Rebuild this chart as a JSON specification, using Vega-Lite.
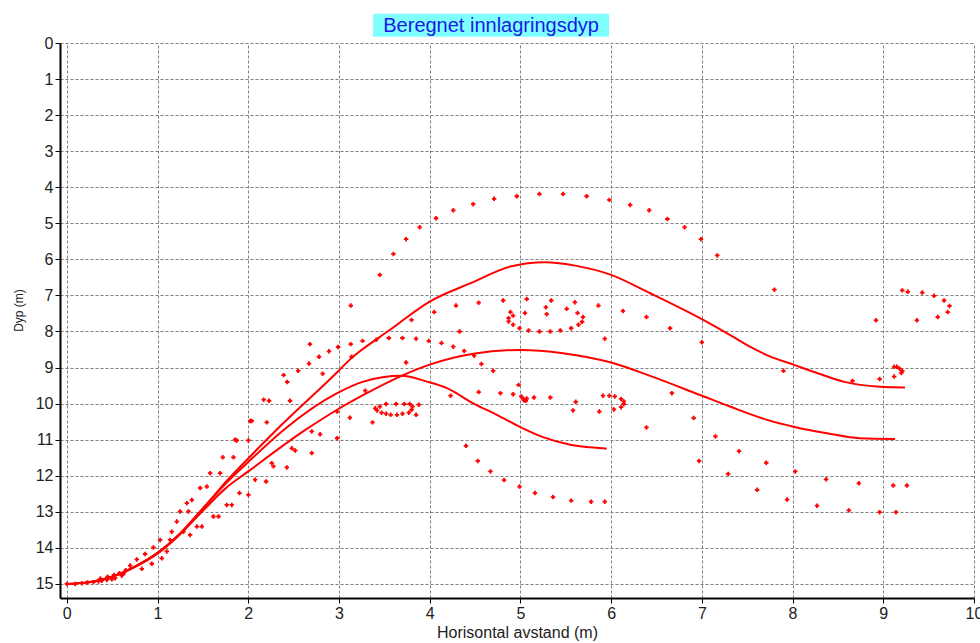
{
  "$schema": "https://vega.github.io/schema/vega-lite/v6.json",
  "width": 914,
  "height": 555,
  "autosize": "none",
  "padding": {"left": 60, "top": 43, "right": 6, "bottom": 45},
  "background": "white",
  "config": {
    "view": {"stroke": null},
    "font": "Liberation Sans",
    "axis": {
      "domainColor": "#000000",
      "domainWidth": 2,
      "tickColor": "#000000",
      "tickWidth": 1,
      "gridColor": "#808080",
      "gridDash": [3, 2],
      "gridWidth": 1,
      "labelFont": "Liberation Sans",
      "labelFontSize": 16,
      "labelColor": "#222222",
      "labelPadding": 2,
      "labelOverlap": false,
      "labelFlush": false,
      "titleFont": "Liberation Sans",
      "titleFontWeight": "normal",
      "titleColor": "#222222"
    },
    "axisY": {"labelOverlap": false},
    "axisX": {"labelOverlap": false}
  },
  "datasets": {
    "kurver": [
      {"kurve": "A", "avstand": 0, "dyp": 15.0},
      {"kurve": "A", "avstand": 0.25, "dyp": 14.95},
      {"kurve": "A", "avstand": 0.5, "dyp": 14.8},
      {"kurve": "A", "avstand": 0.75, "dyp": 14.52},
      {"kurve": "A", "avstand": 1.0, "dyp": 14.14},
      {"kurve": "A", "avstand": 1.25, "dyp": 13.6},
      {"kurve": "A", "avstand": 1.5, "dyp": 12.92},
      {"kurve": "A", "avstand": 1.75, "dyp": 12.18},
      {"kurve": "A", "avstand": 2.0, "dyp": 11.52},
      {"kurve": "A", "avstand": 2.31, "dyp": 10.73},
      {"kurve": "A", "avstand": 2.98, "dyp": 9.13},
      {"kurve": "A", "avstand": 3.12, "dyp": 8.78},
      {"kurve": "A", "avstand": 3.23, "dyp": 8.55},
      {"kurve": "A", "avstand": 3.56, "dyp": 7.96},
      {"kurve": "A", "avstand": 4.0, "dyp": 7.17},
      {"kurve": "A", "avstand": 4.45, "dyp": 6.66},
      {"kurve": "A", "avstand": 4.89, "dyp": 6.2},
      {"kurve": "A", "avstand": 5.27, "dyp": 6.08},
      {"kurve": "A", "avstand": 5.62, "dyp": 6.18},
      {"kurve": "A", "avstand": 6.0, "dyp": 6.43},
      {"kurve": "A", "avstand": 6.43, "dyp": 6.94},
      {"kurve": "A", "avstand": 7.0, "dyp": 7.66},
      {"kurve": "A", "avstand": 7.4, "dyp": 8.23},
      {"kurve": "A", "avstand": 7.53, "dyp": 8.42},
      {"kurve": "A", "avstand": 7.75, "dyp": 8.69},
      {"kurve": "A", "avstand": 8.01, "dyp": 8.92},
      {"kurve": "A", "avstand": 8.27, "dyp": 9.15},
      {"kurve": "A", "avstand": 8.56, "dyp": 9.39},
      {"kurve": "A", "avstand": 8.96, "dyp": 9.53},
      {"kurve": "A", "avstand": 9.24, "dyp": 9.55},
      {"kurve": "B", "avstand": 0, "dyp": 15.0},
      {"kurve": "B", "avstand": 0.25, "dyp": 14.95},
      {"kurve": "B", "avstand": 0.5, "dyp": 14.8},
      {"kurve": "B", "avstand": 0.75, "dyp": 14.53},
      {"kurve": "B", "avstand": 1.0, "dyp": 14.16},
      {"kurve": "B", "avstand": 1.25, "dyp": 13.62},
      {"kurve": "B", "avstand": 1.5, "dyp": 12.97},
      {"kurve": "B", "avstand": 1.75, "dyp": 12.35},
      {"kurve": "B", "avstand": 2.0, "dyp": 11.88},
      {"kurve": "B", "avstand": 2.63, "dyp": 10.73},
      {"kurve": "B", "avstand": 2.98, "dyp": 10.17},
      {"kurve": "B", "avstand": 3.27, "dyp": 9.76},
      {"kurve": "B", "avstand": 3.69, "dyp": 9.23},
      {"kurve": "B", "avstand": 4.0, "dyp": 8.92},
      {"kurve": "B", "avstand": 4.48, "dyp": 8.62},
      {"kurve": "B", "avstand": 5.0, "dyp": 8.51},
      {"kurve": "B", "avstand": 5.47, "dyp": 8.6},
      {"kurve": "B", "avstand": 6.0, "dyp": 8.86},
      {"kurve": "B", "avstand": 6.43, "dyp": 9.23},
      {"kurve": "B", "avstand": 6.98, "dyp": 9.76},
      {"kurve": "B", "avstand": 7.31, "dyp": 10.08},
      {"kurve": "B", "avstand": 7.72, "dyp": 10.45},
      {"kurve": "B", "avstand": 8.01, "dyp": 10.64},
      {"kurve": "B", "avstand": 8.38, "dyp": 10.82},
      {"kurve": "B", "avstand": 8.74, "dyp": 10.96},
      {"kurve": "B", "avstand": 9.13, "dyp": 10.98},
      {"kurve": "C", "avstand": 0, "dyp": 15.0},
      {"kurve": "C", "avstand": 0.25, "dyp": 14.95},
      {"kurve": "C", "avstand": 0.5, "dyp": 14.8},
      {"kurve": "C", "avstand": 0.75, "dyp": 14.52},
      {"kurve": "C", "avstand": 1.0, "dyp": 14.14},
      {"kurve": "C", "avstand": 1.25, "dyp": 13.6},
      {"kurve": "C", "avstand": 1.5, "dyp": 12.9},
      {"kurve": "C", "avstand": 1.75, "dyp": 12.22},
      {"kurve": "C", "avstand": 2.0, "dyp": 11.62},
      {"kurve": "C", "avstand": 2.39, "dyp": 10.73},
      {"kurve": "C", "avstand": 2.98, "dyp": 9.71},
      {"kurve": "C", "avstand": 3.27, "dyp": 9.39},
      {"kurve": "C", "avstand": 3.69, "dyp": 9.23},
      {"kurve": "C", "avstand": 3.97, "dyp": 9.39},
      {"kurve": "C", "avstand": 4.19, "dyp": 9.57},
      {"kurve": "C", "avstand": 4.48, "dyp": 9.99},
      {"kurve": "C", "avstand": 4.74, "dyp": 10.31},
      {"kurve": "C", "avstand": 5.0, "dyp": 10.65},
      {"kurve": "C", "avstand": 5.25, "dyp": 10.93},
      {"kurve": "C", "avstand": 5.55, "dyp": 11.14},
      {"kurve": "C", "avstand": 5.91, "dyp": 11.24},
      {"kurve": "C", "avstand": 5.95, "dyp": 11.25}
    ],
    "punkter": [
      {"avstand": 0, "dyp": 15.0}, {"avstand": 0.092, "dyp": 15.0}, {"avstand": 0.165, "dyp": 14.98},
      {"avstand": 0.228, "dyp": 14.96}, {"avstand": 0.294, "dyp": 14.95}, {"avstand": 0.349, "dyp": 14.93},
      {"avstand": 0.386, "dyp": 14.91}, {"avstand": 0.441, "dyp": 14.89}, {"avstand": 0.496, "dyp": 14.87},
      {"avstand": 0.533, "dyp": 14.84}, {"avstand": 0.606, "dyp": 14.77}, {"avstand": 0.625, "dyp": 14.72},
      {"avstand": 0.37, "dyp": 14.85}, {"avstand": 0.45, "dyp": 14.8}, {"avstand": 0.52, "dyp": 14.75},
      {"avstand": 0.58, "dyp": 14.7}, {"avstand": 0.65, "dyp": 14.62},
      {"avstand": 0.698, "dyp": 14.49}, {"avstand": 0.771, "dyp": 14.32}, {"avstand": 0.827, "dyp": 14.58},
      {"avstand": 0.863, "dyp": 14.17}, {"avstand": 0.937, "dyp": 14.44}, {"avstand": 0.955, "dyp": 13.99},
      {"avstand": 1.029, "dyp": 13.78}, {"avstand": 1.047, "dyp": 14.29}, {"avstand": 1.102, "dyp": 14.1},
      {"avstand": 1.139, "dyp": 13.78}, {"avstand": 1.157, "dyp": 13.55}, {"avstand": 1.212, "dyp": 13.27},
      {"avstand": 1.249, "dyp": 12.99}, {"avstand": 1.286, "dyp": 13.55}, {"avstand": 1.323, "dyp": 12.76},
      {"avstand": 1.341, "dyp": 12.99}, {"avstand": 1.359, "dyp": 13.64}, {"avstand": 1.378, "dyp": 12.67},
      {"avstand": 1.433, "dyp": 13.41}, {"avstand": 1.47, "dyp": 12.34}, {"avstand": 1.488, "dyp": 13.41},
      {"avstand": 1.543, "dyp": 12.3}, {"avstand": 1.58, "dyp": 11.93}, {"avstand": 1.616, "dyp": 13.13},
      {"avstand": 1.672, "dyp": 13.13}, {"avstand": 1.69, "dyp": 11.93}, {"avstand": 1.719, "dyp": 11.49},
      {"avstand": 1.763, "dyp": 12.81}, {"avstand": 1.819, "dyp": 12.81}, {"avstand": 1.837, "dyp": 11.49},
      {"avstand": 1.855, "dyp": 11.0}, {"avstand": 1.874, "dyp": 11.02}, {"avstand": 1.903, "dyp": 12.48},
      {"avstand": 2.002, "dyp": 12.53}, {"avstand": 2.002, "dyp": 11.02}, {"avstand": 2.021, "dyp": 10.48},
      {"avstand": 2.039, "dyp": 10.48}, {"avstand": 2.076, "dyp": 12.11}, {"avstand": 2.197, "dyp": 12.16},
      {"avstand": 2.204, "dyp": 10.52}, {"avstand": 2.259, "dyp": 11.65}, {"avstand": 2.278, "dyp": 11.74},
      {"avstand": 2.425, "dyp": 11.77}, {"avstand": 2.48, "dyp": 11.24}, {"avstand": 2.517, "dyp": 11.3},
      {"avstand": 2.7, "dyp": 11.37}, {"avstand": 2.7, "dyp": 10.77}, {"avstand": 2.792, "dyp": 10.85},
      {"avstand": 3.13, "dyp": 7.28}, {"avstand": 2.68, "dyp": 8.35}, {"avstand": 3.13, "dyp": 8.35},
      {"avstand": 2.99, "dyp": 8.43}, {"avstand": 2.89, "dyp": 8.55}, {"avstand": 2.78, "dyp": 8.7},
      {"avstand": 3.14, "dyp": 8.7}, {"avstand": 2.67, "dyp": 8.89}, {"avstand": 2.39, "dyp": 9.21},
      {"avstand": 2.55, "dyp": 9.09}, {"avstand": 2.82, "dyp": 9.17}, {"avstand": 2.43, "dyp": 9.4},
      {"avstand": 2.17, "dyp": 9.89}, {"avstand": 2.23, "dyp": 9.92}, {"avstand": 2.46, "dyp": 9.92},
      {"avstand": 2.98, "dyp": 10.22}, {"avstand": 3.12, "dyp": 10.39},
      {"avstand": 3.45, "dyp": 6.43}, {"avstand": 3.6, "dyp": 5.85}, {"avstand": 3.74, "dyp": 5.44},
      {"avstand": 3.89, "dyp": 5.11}, {"avstand": 4.07, "dyp": 4.86}, {"avstand": 4.26, "dyp": 4.64},
      {"avstand": 4.48, "dyp": 4.47}, {"avstand": 4.71, "dyp": 4.32}, {"avstand": 4.96, "dyp": 4.25},
      {"avstand": 5.21, "dyp": 4.19}, {"avstand": 5.47, "dyp": 4.19}, {"avstand": 5.73, "dyp": 4.25},
      {"avstand": 5.98, "dyp": 4.35}, {"avstand": 6.21, "dyp": 4.49}, {"avstand": 6.42, "dyp": 4.64},
      {"avstand": 6.62, "dyp": 4.88}, {"avstand": 6.81, "dyp": 5.11}, {"avstand": 6.99, "dyp": 5.44},
      {"avstand": 7.17, "dyp": 5.89}, {"avstand": 7.8, "dyp": 6.84}, {"avstand": 6.65, "dyp": 7.91},
      {"avstand": 7.0, "dyp": 8.3}, {"avstand": 8.92, "dyp": 7.69}, {"avstand": 9.21, "dyp": 6.86},
      {"avstand": 9.27, "dyp": 6.9}, {"avstand": 9.43, "dyp": 6.92}, {"avstand": 9.56, "dyp": 7.01},
      {"avstand": 9.67, "dyp": 7.14}, {"avstand": 9.73, "dyp": 7.29}, {"avstand": 9.71, "dyp": 7.46},
      {"avstand": 9.6, "dyp": 7.6}, {"avstand": 9.37, "dyp": 7.69},
      {"avstand": 9.12, "dyp": 8.98}, {"avstand": 9.15, "dyp": 8.98}, {"avstand": 9.18, "dyp": 9.03},
      {"avstand": 9.21, "dyp": 9.09}, {"avstand": 9.2, "dyp": 9.15}, {"avstand": 9.12, "dyp": 9.25},
      {"avstand": 8.96, "dyp": 9.32}, {"avstand": 8.66, "dyp": 9.37},
      {"avstand": 4.05, "dyp": 7.46}, {"avstand": 4.29, "dyp": 7.28}, {"avstand": 4.54, "dyp": 7.2},
      {"avstand": 4.81, "dyp": 7.14}, {"avstand": 5.07, "dyp": 7.1}, {"avstand": 5.34, "dyp": 7.14},
      {"avstand": 5.6, "dyp": 7.19}, {"avstand": 5.86, "dyp": 7.28}, {"avstand": 6.13, "dyp": 7.43},
      {"avstand": 6.39, "dyp": 7.6}, {"avstand": 3.8, "dyp": 7.68}, {"avstand": 4.33, "dyp": 8.0},
      {"avstand": 5.93, "dyp": 8.2},
      {"avstand": 5.28, "dyp": 7.33}, {"avstand": 4.89, "dyp": 7.46}, {"avstand": 5.05, "dyp": 7.49},
      {"avstand": 5.29, "dyp": 7.52}, {"avstand": 5.51, "dyp": 7.37}, {"avstand": 5.63, "dyp": 7.49},
      {"avstand": 5.69, "dyp": 7.6}, {"avstand": 5.68, "dyp": 7.73}, {"avstand": 5.64, "dyp": 7.81},
      {"avstand": 5.56, "dyp": 7.91}, {"avstand": 5.44, "dyp": 7.97}, {"avstand": 5.33, "dyp": 8.0},
      {"avstand": 5.21, "dyp": 8.0}, {"avstand": 5.09, "dyp": 7.97}, {"avstand": 4.99, "dyp": 7.91},
      {"avstand": 4.92, "dyp": 7.81}, {"avstand": 4.87, "dyp": 7.72}, {"avstand": 4.87, "dyp": 7.63},
      {"avstand": 4.92, "dyp": 7.56},
      {"avstand": 3.26, "dyp": 8.26}, {"avstand": 3.41, "dyp": 8.23}, {"avstand": 3.55, "dyp": 8.18},
      {"avstand": 3.7, "dyp": 8.18}, {"avstand": 3.85, "dyp": 8.2}, {"avstand": 3.99, "dyp": 8.26},
      {"avstand": 4.13, "dyp": 8.32}, {"avstand": 4.26, "dyp": 8.42}, {"avstand": 4.38, "dyp": 8.54},
      {"avstand": 4.49, "dyp": 8.67},
      {"avstand": 3.74, "dyp": 8.86}, {"avstand": 4.57, "dyp": 8.9}, {"avstand": 4.7, "dyp": 9.09},
      {"avstand": 4.98, "dyp": 9.48}, {"avstand": 4.54, "dyp": 9.68}, {"avstand": 4.78, "dyp": 9.71},
      {"avstand": 4.92, "dyp": 9.74}, {"avstand": 5.01, "dyp": 9.8}, {"avstand": 5.05, "dyp": 9.89},
      {"avstand": 5.03, "dyp": 9.87}, {"avstand": 5.06, "dyp": 9.92}, {"avstand": 5.07, "dyp": 9.86},
      {"avstand": 5.04, "dyp": 9.91}, {"avstand": 5.15, "dyp": 9.83}, {"avstand": 5.33, "dyp": 9.83},
      {"avstand": 4.23, "dyp": 9.78}, {"avstand": 3.29, "dyp": 9.64}, {"avstand": 2.98, "dyp": 10.96},
      {"avstand": 3.37, "dyp": 10.52}, {"avstand": 3.85, "dyp": 10.31},
      {"avstand": 3.4, "dyp": 10.13}, {"avstand": 3.42, "dyp": 10.19}, {"avstand": 3.45, "dyp": 10.08},
      {"avstand": 3.47, "dyp": 10.25}, {"avstand": 3.52, "dyp": 10.01}, {"avstand": 3.52, "dyp": 10.28},
      {"avstand": 3.57, "dyp": 10.31}, {"avstand": 3.63, "dyp": 10.01}, {"avstand": 3.64, "dyp": 10.31},
      {"avstand": 3.7, "dyp": 10.28}, {"avstand": 3.72, "dyp": 10.01}, {"avstand": 3.77, "dyp": 10.25},
      {"avstand": 3.78, "dyp": 10.01}, {"avstand": 3.8, "dyp": 10.17}, {"avstand": 3.81, "dyp": 10.08},
      {"avstand": 3.88, "dyp": 10.03},
      {"avstand": 5.58, "dyp": 10.19}, {"avstand": 5.61, "dyp": 9.95}, {"avstand": 5.87, "dyp": 10.22},
      {"avstand": 5.91, "dyp": 9.78}, {"avstand": 5.98, "dyp": 9.78}, {"avstand": 6.04, "dyp": 9.8},
      {"avstand": 6.11, "dyp": 9.87}, {"avstand": 6.14, "dyp": 9.94}, {"avstand": 6.14, "dyp": 10.01},
      {"avstand": 6.11, "dyp": 10.1}, {"avstand": 6.03, "dyp": 10.16}, {"avstand": 6.39, "dyp": 10.66},
      {"avstand": 4.4, "dyp": 11.17}, {"avstand": 4.53, "dyp": 11.59}, {"avstand": 4.67, "dyp": 11.88},
      {"avstand": 4.82, "dyp": 12.12}, {"avstand": 4.99, "dyp": 12.3}, {"avstand": 5.16, "dyp": 12.48},
      {"avstand": 5.36, "dyp": 12.59}, {"avstand": 5.56, "dyp": 12.69}, {"avstand": 5.78, "dyp": 12.72},
      {"avstand": 5.93, "dyp": 12.72},
      {"avstand": 6.67, "dyp": 9.71}, {"avstand": 6.91, "dyp": 10.4}, {"avstand": 7.15, "dyp": 10.91},
      {"avstand": 7.41, "dyp": 11.32}, {"avstand": 6.97, "dyp": 11.59}, {"avstand": 7.29, "dyp": 11.95},
      {"avstand": 7.71, "dyp": 11.64}, {"avstand": 7.61, "dyp": 12.39}, {"avstand": 8.03, "dyp": 11.88},
      {"avstand": 7.94, "dyp": 12.66}, {"avstand": 8.37, "dyp": 12.1}, {"avstand": 8.27, "dyp": 12.83},
      {"avstand": 8.73, "dyp": 12.21}, {"avstand": 8.62, "dyp": 12.96}, {"avstand": 8.96, "dyp": 13.01},
      {"avstand": 9.14, "dyp": 13.01}, {"avstand": 9.11, "dyp": 12.27}, {"avstand": 9.26, "dyp": 12.27},
      {"avstand": 7.9, "dyp": 9.09}
    ]
  },
  "layer": [
    {
      "data": {"name": "kurver"},
      "mark": {"type": "line", "color": "#ff0000", "strokeWidth": 2, "interpolate": "monotone"},
      "encoding": {
        "x": {
          "field": "avstand", "type": "quantitative",
          "scale": {"domain": [-0.075, 10], "nice": false, "zero": false},
          "axis": {
            "title": "Horisontal avstand (m)", "titleFontSize": 16, "titlePadding": 3,
            "values": [0,0.25,0.5,0.75,1,1.25,1.5,1.75,2,2.25,2.5,2.75,3,3.25,3.5,3.75,4,4.25,4.5,4.75,5,5.25,5.5,5.75,6,6.25,6.5,6.75,7,7.25,7.5,7.75,8,8.25,8.5,8.75,9,9.25,9.5,9.75,10],
            "format": "d", "labelExpr": "datum.value % 1 === 0 ? datum.label : ''", "labelOverlap": false,
            "tickSize": {"condition": {"test": "datum.value % 1 !== 0", "value": 3}, "value": 5},
            "gridOpacity": {"condition": {"test": "datum.value % 1 !== 0", "value": 0}, "value": 1}
          }
        },
        "y": {
          "field": "dyp", "type": "quantitative",
          "scale": {"domain": [0, 15.39], "nice": false, "zero": false, "reverse": true},
          "axis": {
            "title": "Dyp (m)", "titleFontSize": 12, "titlePadding": 10, "titleY": 267,
            "values": [0,0.25,0.5,0.75,1,1.25,1.5,1.75,2,2.25,2.5,2.75,3,3.25,3.5,3.75,4,4.25,4.5,4.75,5,5.25,5.5,5.75,6,6.25,6.5,6.75,7,7.25,7.5,7.75,8,8.25,8.5,8.75,9,9.25,9.5,9.75,10,10.25,10.5,10.75,11,11.25,11.5,11.75,12,12.25,12.5,12.75,13,13.25,13.5,13.75,14,14.25,14.5,14.75,15],
            "format": "d", "labelExpr": "datum.value % 1 === 0 ? datum.label : ''", "labelOverlap": false,
            "tickSize": {"condition": {"test": "datum.value % 1 !== 0", "value": 3}, "value": 5},
            "gridOpacity": {"condition": {"test": "datum.value % 1 !== 0", "value": 0}, "value": 1}
          }
        },
        "detail": {"field": "kurve"}
      }
    },
    {
      "data": {"name": "punkter"},
      "mark": {"type": "point", "shape": "cross", "filled": true, "size": 20, "color": "#ff0000", "opacity": 1},
      "encoding": {
        "x": {
          "field": "avstand", "type": "quantitative",
          "axis": {
            "title": "Horisontal avstand (m)", "titleFontSize": 16, "titlePadding": 3,
            "values": [0,0.25,0.5,0.75,1,1.25,1.5,1.75,2,2.25,2.5,2.75,3,3.25,3.5,3.75,4,4.25,4.5,4.75,5,5.25,5.5,5.75,6,6.25,6.5,6.75,7,7.25,7.5,7.75,8,8.25,8.5,8.75,9,9.25,9.5,9.75,10],
            "format": "d", "labelExpr": "datum.value % 1 === 0 ? datum.label : ''", "labelOverlap": false,
            "tickSize": {"condition": {"test": "datum.value % 1 !== 0", "value": 3}, "value": 5},
            "gridOpacity": {"condition": {"test": "datum.value % 1 !== 0", "value": 0}, "value": 1}
          }
        },
        "y": {
          "field": "dyp", "type": "quantitative",
          "axis": {
            "title": "Dyp (m)", "titleFontSize": 12, "titlePadding": 10, "titleY": 267,
            "values": [0,0.25,0.5,0.75,1,1.25,1.5,1.75,2,2.25,2.5,2.75,3,3.25,3.5,3.75,4,4.25,4.5,4.75,5,5.25,5.5,5.75,6,6.25,6.5,6.75,7,7.25,7.5,7.75,8,8.25,8.5,8.75,9,9.25,9.5,9.75,10,10.25,10.5,10.75,11,11.25,11.5,11.75,12,12.25,12.5,12.75,13,13.25,13.5,13.75,14,14.25,14.5,14.75,15],
            "format": "d", "labelExpr": "datum.value % 1 === 0 ? datum.label : ''", "labelOverlap": false,
            "tickSize": {"condition": {"test": "datum.value % 1 !== 0", "value": 3}, "value": 5},
            "gridOpacity": {"condition": {"test": "datum.value % 1 !== 0", "value": 0}, "value": 1}
          }
        }
      }
    },
    {
      "data": {"values": [{"tittel": "Beregnet innlagringsdyp"}]},
      "mark": {"type": "rect", "color": "#80ffff"},
      "encoding": {
        "x": {
          "datum": 3.376, "type": "quantitative",
          "axis": {
            "title": "Horisontal avstand (m)", "titleFontSize": 16, "titlePadding": 3,
            "values": [0,0.25,0.5,0.75,1,1.25,1.5,1.75,2,2.25,2.5,2.75,3,3.25,3.5,3.75,4,4.25,4.5,4.75,5,5.25,5.5,5.75,6,6.25,6.5,6.75,7,7.25,7.5,7.75,8,8.25,8.5,8.75,9,9.25,9.5,9.75,10],
            "format": "d", "labelExpr": "datum.value % 1 === 0 ? datum.label : ''", "labelOverlap": false,
            "tickSize": {"condition": {"test": "datum.value % 1 !== 0", "value": 3}, "value": 5},
            "gridOpacity": {"condition": {"test": "datum.value % 1 !== 0", "value": 0}, "value": 1}
          }
        },
        "x2": {"datum": 5.977},
        "y": {
          "datum": -0.813, "type": "quantitative",
          "axis": {
            "title": "Dyp (m)", "titleFontSize": 12, "titlePadding": 10, "titleY": 267,
            "values": [0,0.25,0.5,0.75,1,1.25,1.5,1.75,2,2.25,2.5,2.75,3,3.25,3.5,3.75,4,4.25,4.5,4.75,5,5.25,5.5,5.75,6,6.25,6.5,6.75,7,7.25,7.5,7.75,8,8.25,8.5,8.75,9,9.25,9.5,9.75,10,10.25,10.5,10.75,11,11.25,11.5,11.75,12,12.25,12.5,12.75,13,13.25,13.5,13.75,14,14.25,14.5,14.75,15],
            "format": "d", "labelExpr": "datum.value % 1 === 0 ? datum.label : ''", "labelOverlap": false,
            "tickSize": {"condition": {"test": "datum.value % 1 !== 0", "value": 3}, "value": 5},
            "gridOpacity": {"condition": {"test": "datum.value % 1 !== 0", "value": 0}, "value": 1}
          }
        },
        "y2": {"datum": -0.175}
      }
    },
    {
      "data": {"values": [{"tittel": "Beregnet innlagringsdyp"}]},
      "mark": {"type": "text", "font": "Liberation Sans", "fontSize": 20, "color": "#1a1ae6", "align": "center", "baseline": "middle"},
      "encoding": {
        "x": {
          "datum": 4.677, "type": "quantitative",
          "axis": {
            "title": "Horisontal avstand (m)", "titleFontSize": 16, "titlePadding": 3,
            "values": [0,0.25,0.5,0.75,1,1.25,1.5,1.75,2,2.25,2.5,2.75,3,3.25,3.5,3.75,4,4.25,4.5,4.75,5,5.25,5.5,5.75,6,6.25,6.5,6.75,7,7.25,7.5,7.75,8,8.25,8.5,8.75,9,9.25,9.5,9.75,10],
            "format": "d", "labelExpr": "datum.value % 1 === 0 ? datum.label : ''", "labelOverlap": false,
            "tickSize": {"condition": {"test": "datum.value % 1 !== 0", "value": 3}, "value": 5},
            "gridOpacity": {"condition": {"test": "datum.value % 1 !== 0", "value": 0}, "value": 1}
          }
        },
        "y": {
          "datum": -0.47, "type": "quantitative",
          "axis": {
            "title": "Dyp (m)", "titleFontSize": 12, "titlePadding": 10, "titleY": 267,
            "values": [0,0.25,0.5,0.75,1,1.25,1.5,1.75,2,2.25,2.5,2.75,3,3.25,3.5,3.75,4,4.25,4.5,4.75,5,5.25,5.5,5.75,6,6.25,6.5,6.75,7,7.25,7.5,7.75,8,8.25,8.5,8.75,9,9.25,9.5,9.75,10,10.25,10.5,10.75,11,11.25,11.5,11.75,12,12.25,12.5,12.75,13,13.25,13.5,13.75,14,14.25,14.5,14.75,15],
            "format": "d", "labelExpr": "datum.value % 1 === 0 ? datum.label : ''", "labelOverlap": false,
            "tickSize": {"condition": {"test": "datum.value % 1 !== 0", "value": 3}, "value": 5},
            "gridOpacity": {"condition": {"test": "datum.value % 1 !== 0", "value": 0}, "value": 1}
          }
        },
        "text": {"field": "tittel"}
      }
    }
  ]
}
